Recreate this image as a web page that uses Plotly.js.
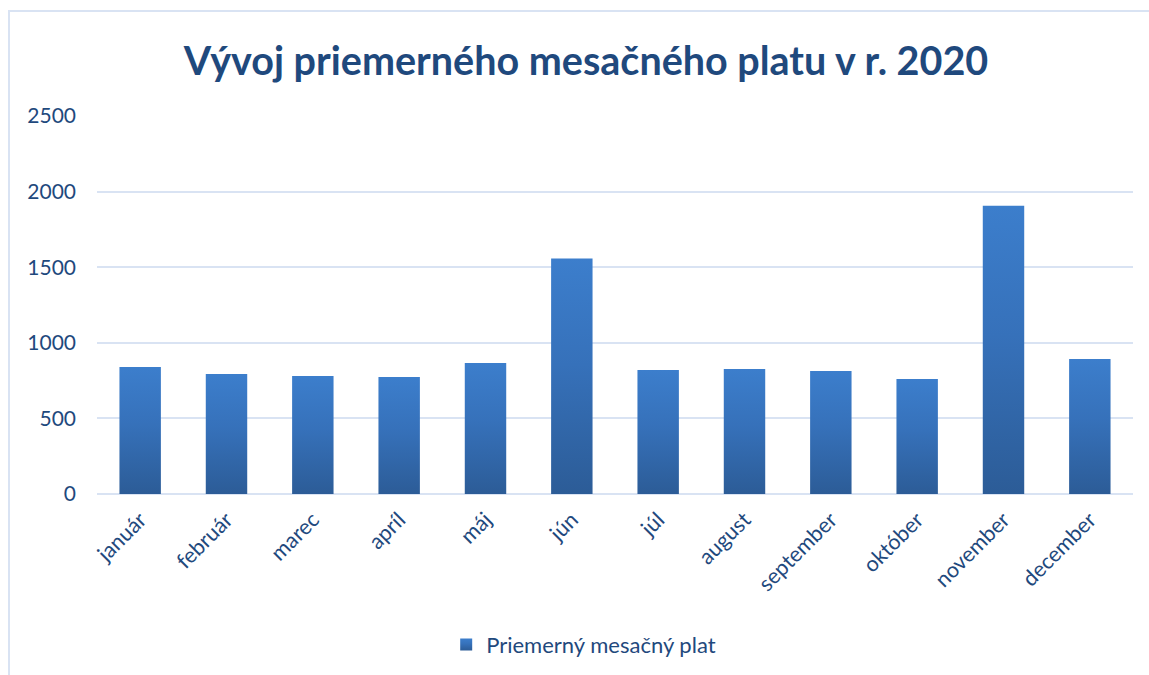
<!DOCTYPE html>
<html>
<head>
<meta charset="utf-8">
<script src="https://cdn.plot.ly/plotly-3.0.1.min.js"></script>
<style>
  html, body { margin: 0; padding: 0; background: #ffffff; }
  #wrap { position: relative; width: 1149px; height: 675px; overflow: hidden; }
  #chart { position: absolute; left: 0; top: 0; width: 1149px; height: 675px; }
  #frame { position: absolute; left: 8px; top: 10px; width: 1200px; height: 700px;
           border-top: 2px solid #D9E3F3; border-left: 2px solid #D9E3F3; pointer-events: none; }
</style>
</head>
<body>
<div id="wrap">
  <div id="chart"></div>
  <div id="frame"></div>
</div>
<script>
const months = ["január", "február", "marec", "apríl", "máj", "jún", "júl", "august", "september", "október", "november", "december"];
const salary = [840, 794, 780, 774, 867, 1557, 820, 827, 813, 760, 1907, 893];
const seriesName = "Priemerný mesačný plat";
const chartTitle = "Vývoj priemerného mesačného platu v r. 2020";
const yTicks = [0, 500, 1000, 1500, 2000, 2500];

const textColor = "#1F497D";
const gridColor = "#D9E3F3";

const trace = {
  type: "bar",
  x: months,
  y: salary,
  name: seriesName,
  marker: { color: "#3470B5", line: { width: 0 } },
  showlegend: true,
  hoverinfo: "x+y"
};

const layout = {
  width: 1149,
  height: 675,
  margin: { l: 97, r: 16, t: 116, b: 181 },
  paper_bgcolor: "#ffffff",
  plot_bgcolor: "#ffffff",
  font: { family: "Lato, 'Open Sans', sans-serif", color: textColor, size: 20 },
  title: {
    text: "<b>" + chartTitle + "</b>",
    font: { family: "Lato, 'Open Sans', sans-serif", size: 39.5, color: textColor },
    x: 0.51, xanchor: "center", xref: "container",
    y: 0.91, yanchor: "middle", yref: "container"
  },
  bargap: 0.52,
  xaxis: {
    type: "category",
    tickangle: -45,
    showgrid: false,
    showline: false,
    ticks: "",
    ticklabelstandoff: 8,
    tickfont: { size: 21.5, color: textColor },
    automargin: false
  },
  yaxis: {
    range: [0, 2500],
    tickvals: yTicks,
    ticktext: yTicks.map(String),
    showgrid: true,
    gridcolor: gridColor,
    gridwidth: 2,
    zeroline: true,
    zerolinecolor: gridColor,
    zerolinewidth: 2,
    showline: false,
    ticks: "",
    ticklabelstandoff: 20,
    tickfont: { size: 21, color: textColor },
    automargin: false
  },
  legend: {
    orientation: "h",
    x: 0.508, xanchor: "center", xref: "container",
    y: 0.045, yanchor: "middle", yref: "container",
    font: { size: 22, color: textColor },
    itemwidth: 30
  }
};

Plotly.newPlot("chart", [trace], layout, { displayModeBar: false, staticPlot: true }).then(function (gd) {
  // apply vertical gradient to the bars drawn by Plotly
  const svg = gd.querySelector("svg.main-svg");
  const ns = "http://www.w3.org/2000/svg";
  let defs = svg.querySelector("defs");
  if (!defs) { defs = document.createElementNS(ns, "defs"); svg.insertBefore(defs, svg.firstChild); }
  const grad = document.createElementNS(ns, "linearGradient");
  grad.setAttribute("id", "barGrad");
  grad.setAttribute("x1", "0"); grad.setAttribute("y1", "0");
  grad.setAttribute("x2", "0"); grad.setAttribute("y2", "1");
  const stops = [["0", "#3C7ECC"], ["0.45", "#3671BA"], ["1", "#2C5C97"]];
  stops.forEach(function (s) {
    const st = document.createElementNS(ns, "stop");
    st.setAttribute("offset", s[0]);
    st.setAttribute("stop-color", s[1]);
    grad.appendChild(st);
  });
  defs.appendChild(grad);
  gd.querySelectorAll(".barlayer .point path").forEach(function (p) {
    p.style.fill = "url(#barGrad)";
  });
  gd.querySelectorAll(".legend .legendpoints path").forEach(function (p) {
    p.style.fill = "url(#barGrad)";
  });
});
</script>
</body>
</html>
